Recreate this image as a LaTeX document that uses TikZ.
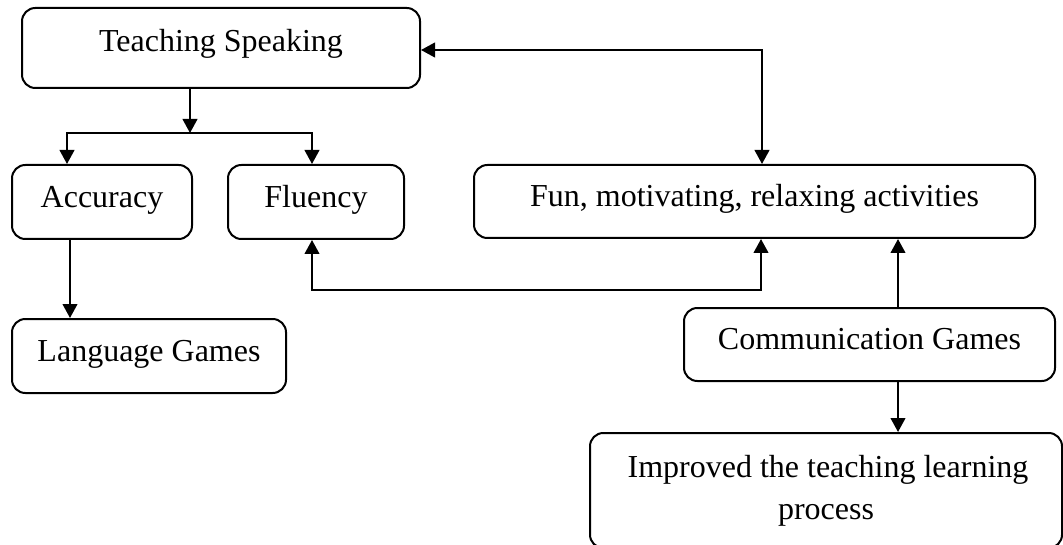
\documentclass[tikz,border=0pt]{standalone}
\usepackage{fontspec}
\setmainfont{Liberation Serif}
\usetikzlibrary{arrows.meta}
\begin{document}
\begin{tikzpicture}[x=0.75pt,y=-0.75pt,
  >={Triangle[length=10.5pt,width=11pt]},
  box/.style={draw, line width=1.5pt, rounded corners=10pt, inner sep=0pt,
    font=\fontsize{24}{31.5}\selectfont, text height=14.9pt, text depth=6.7pt},
  tallbox/.style={draw, line width=1.5pt, rounded corners=10pt, inner sep=0pt,
    font=\fontsize{24}{31.5}\selectfont, align=center},
  conn/.style={line width=1.5pt}]
\useasboundingbox (0,0) rectangle (1063,545);

\node[box, minimum width=298.5pt, minimum height=60pt, text depth=9.2pt] (ts) at (221,48) {Teaching Speaking};
\node[box, minimum width=135pt, minimum height=55.5pt] (acc) at (102,202) {Accuracy};
\node[box, minimum width=132pt, minimum height=55.5pt] (flu) at (316,202) {Fluency};
\node[box, minimum width=420.75pt, minimum height=54.75pt] (fun) at (754.5,201.5) {Fun, motivating, relaxing activities};
\node[box, minimum width=205.5pt, minimum height=55.5pt] (lang) at (149,356) {Language Games};
\node[box, minimum width=278.25pt, minimum height=54.75pt] (comm) at (869.5,344.5) {Communication Games};
\node[tallbox, minimum width=354pt, minimum height=86.25pt] (imp) at (826,490.5) {\hspace*{3pt}Improved the teaching learning\\process};

\coordinate (split) at (190,133);
\coordinate (ax) at (67,133);
\coordinate (fx) at (312,133);
\coordinate (lx) at (70,0);
\coordinate (b1) at (312,290);
\coordinate (b2) at (761,290);
\coordinate (c1) at (762,50);
\coordinate (cx) at (898,0);

\draw[conn,->] (ts.south -| split) -- (split);
\draw[conn,->] (split) -- (ax) -- (acc.north -| ax);
\draw[conn,->] (split) -- (fx) -- (flu.north -| fx);
\draw[conn,->] (acc.south -| lx) -- (lang.north -| lx);
\draw[conn,<->] (flu.south -| b1) -- (b1) -- (b2) -- (fun.south -| b2);
\draw[conn,<->] (ts.east |- c1) -- (c1) -- (fun.north -| c1);
\draw[conn,->] (comm.north -| cx) -- (fun.south -| cx);
\draw[conn,->] (comm.south -| cx) -- (imp.north -| cx);
\end{tikzpicture}
\end{document}
